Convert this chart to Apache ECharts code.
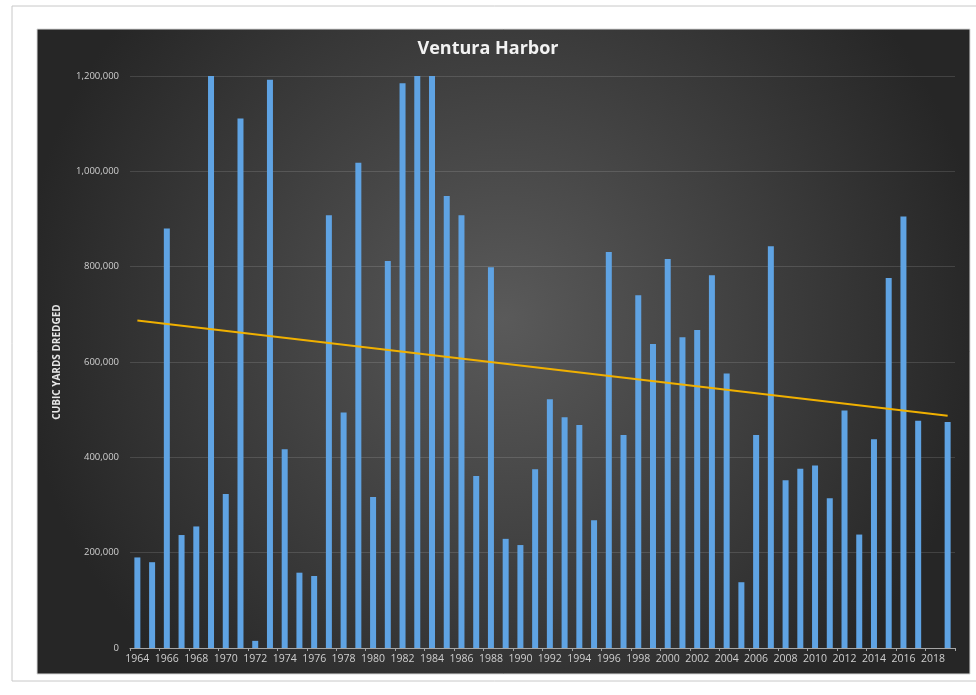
<!DOCTYPE html>
<html>
<head>
<meta charset="utf-8">
<title>Ventura Harbor</title>
<script src="https://cdn.jsdelivr.net/npm/echarts@6/dist/echarts.min.js"></script>
<style>
  html, body { margin: 0; padding: 0; background: #ffffff; }
  #chart { width: 976px; height: 695px; }
</style>
</head>
<body>
<div id="chart"></div>
<script>
// Dredging volumes at Ventura Harbor, by year
const years = [];
for (let y = 1964; y <= 2019; y++) years.push(String(y));

const cubicYards = [
  190000, 180000, 880000, 237000, 255000, 1200000, 323000, 1111000, 15000, 1192000,
  417000, 158000, 151000, 908000, 494000, 1018000, 317000, 812000, 1185000, 1200000,
  1200000, 948000, 908000, 361000, 799000, 229000, 216000, 375000, 522000, 484000,
  468000, 268000, 831000, 447000, 740000, 638000, 816000, 652000, 667000, 782000,
  576000, 138000, 447000, 843000, 352000, 376000, 383000, 314000, 498000, 238000,
  438000, 776000, 905000, 477000, null, 474000
];

// Linear trend: values at the first and last year
const trendStart = 687000;
const trendEnd = 487000;

const trendData = years.map((_, i) =>
  i === 0 ? trendStart : (i === years.length - 1 ? trendEnd : null));

const yTicks = { min: 0, max: 1200000, interval: 200000 };

const chart = echarts.init(document.getElementById('chart'));

chart.setOption({
  animation: false,
  graphic: [
    { type: 'rect', z: -10, silent: true,
      shape: { x: 12, y: 6, width: 980, height: 675 },
      style: { fill: '#ffffff', stroke: '#c8c8c8', lineWidth: 1 } },
    { type: 'rect', z: -9, silent: true,
      shape: { x: 37, y: 29, width: 933, height: 645 },
      style: {
        stroke: '#d8d8d8', lineWidth: 1,
        fill: new echarts.graphic.RadialGradient(0.5, 0.45, 0.75, [
          { offset: 0, color: '#5a5a5a' },
          { offset: 1, color: '#262626' }
        ])
      } },
    { type: 'text', z: 10, silent: true,
      x: 57, y: 362,
      rotation: Math.PI / 2,
      style: {
        text: 'CUBIC YARDS DREDGED',
        fill: '#e6e6e6',
        align: 'center',
        verticalAlign: 'middle',
        font: 'bold 10px "Open Sans", sans-serif'
      } }
  ],
  title: {
    text: 'Ventura Harbor',
    left: 'center',
    top: 35,
    textStyle: { color: '#f2f2f2', fontSize: 18, fontWeight: 'bold', fontFamily: '"Open Sans", sans-serif' }
  },
  grid: { left: 130, right: 21, top: 76, bottom: 47, containLabel: false },
  xAxis: {
    type: 'category',
    data: years,
    axisLine: { lineStyle: { color: '#a6a6a6', width: 1 } },
    axisTick: { show: true, alignWithLabel: false, length: 3, lineStyle: { color: '#a6a6a6' } },
    axisLabel: { interval: 1, color: '#cfcfcf', fontSize: 10.5, margin: 6, fontFamily: '"Open Sans", sans-serif' },
    splitLine: { show: false }
  },
  yAxis: {
    type: 'value',
    min: yTicks.min,
    max: yTicks.max,
    interval: yTicks.interval,
    axisLine: { show: false },
    axisTick: { show: false },
    axisLabel: {
      color: '#cfcfcf', fontSize: 9.5, margin: 11,
      fontFamily: '"Open Sans", sans-serif',
      formatter: v => v.toLocaleString('en-US')
    },
    splitLine: { lineStyle: { color: 'rgba(255,255,255,0.13)', width: 1 } }
  },
  series: [
    {
      type: 'bar',
      name: 'Cubic yards dredged',
      data: cubicYards,
      barWidth: 6,
      itemStyle: { color: '#5fa3e3' },
      z: 2
    },
    {
      type: 'line',
      name: 'Linear trend',
      data: trendData,
      connectNulls: true,
      symbol: 'none',
      lineStyle: { color: '#f0b000', width: 2 },
      z: 3
    }
  ]
});
</script>
</body>
</html>
